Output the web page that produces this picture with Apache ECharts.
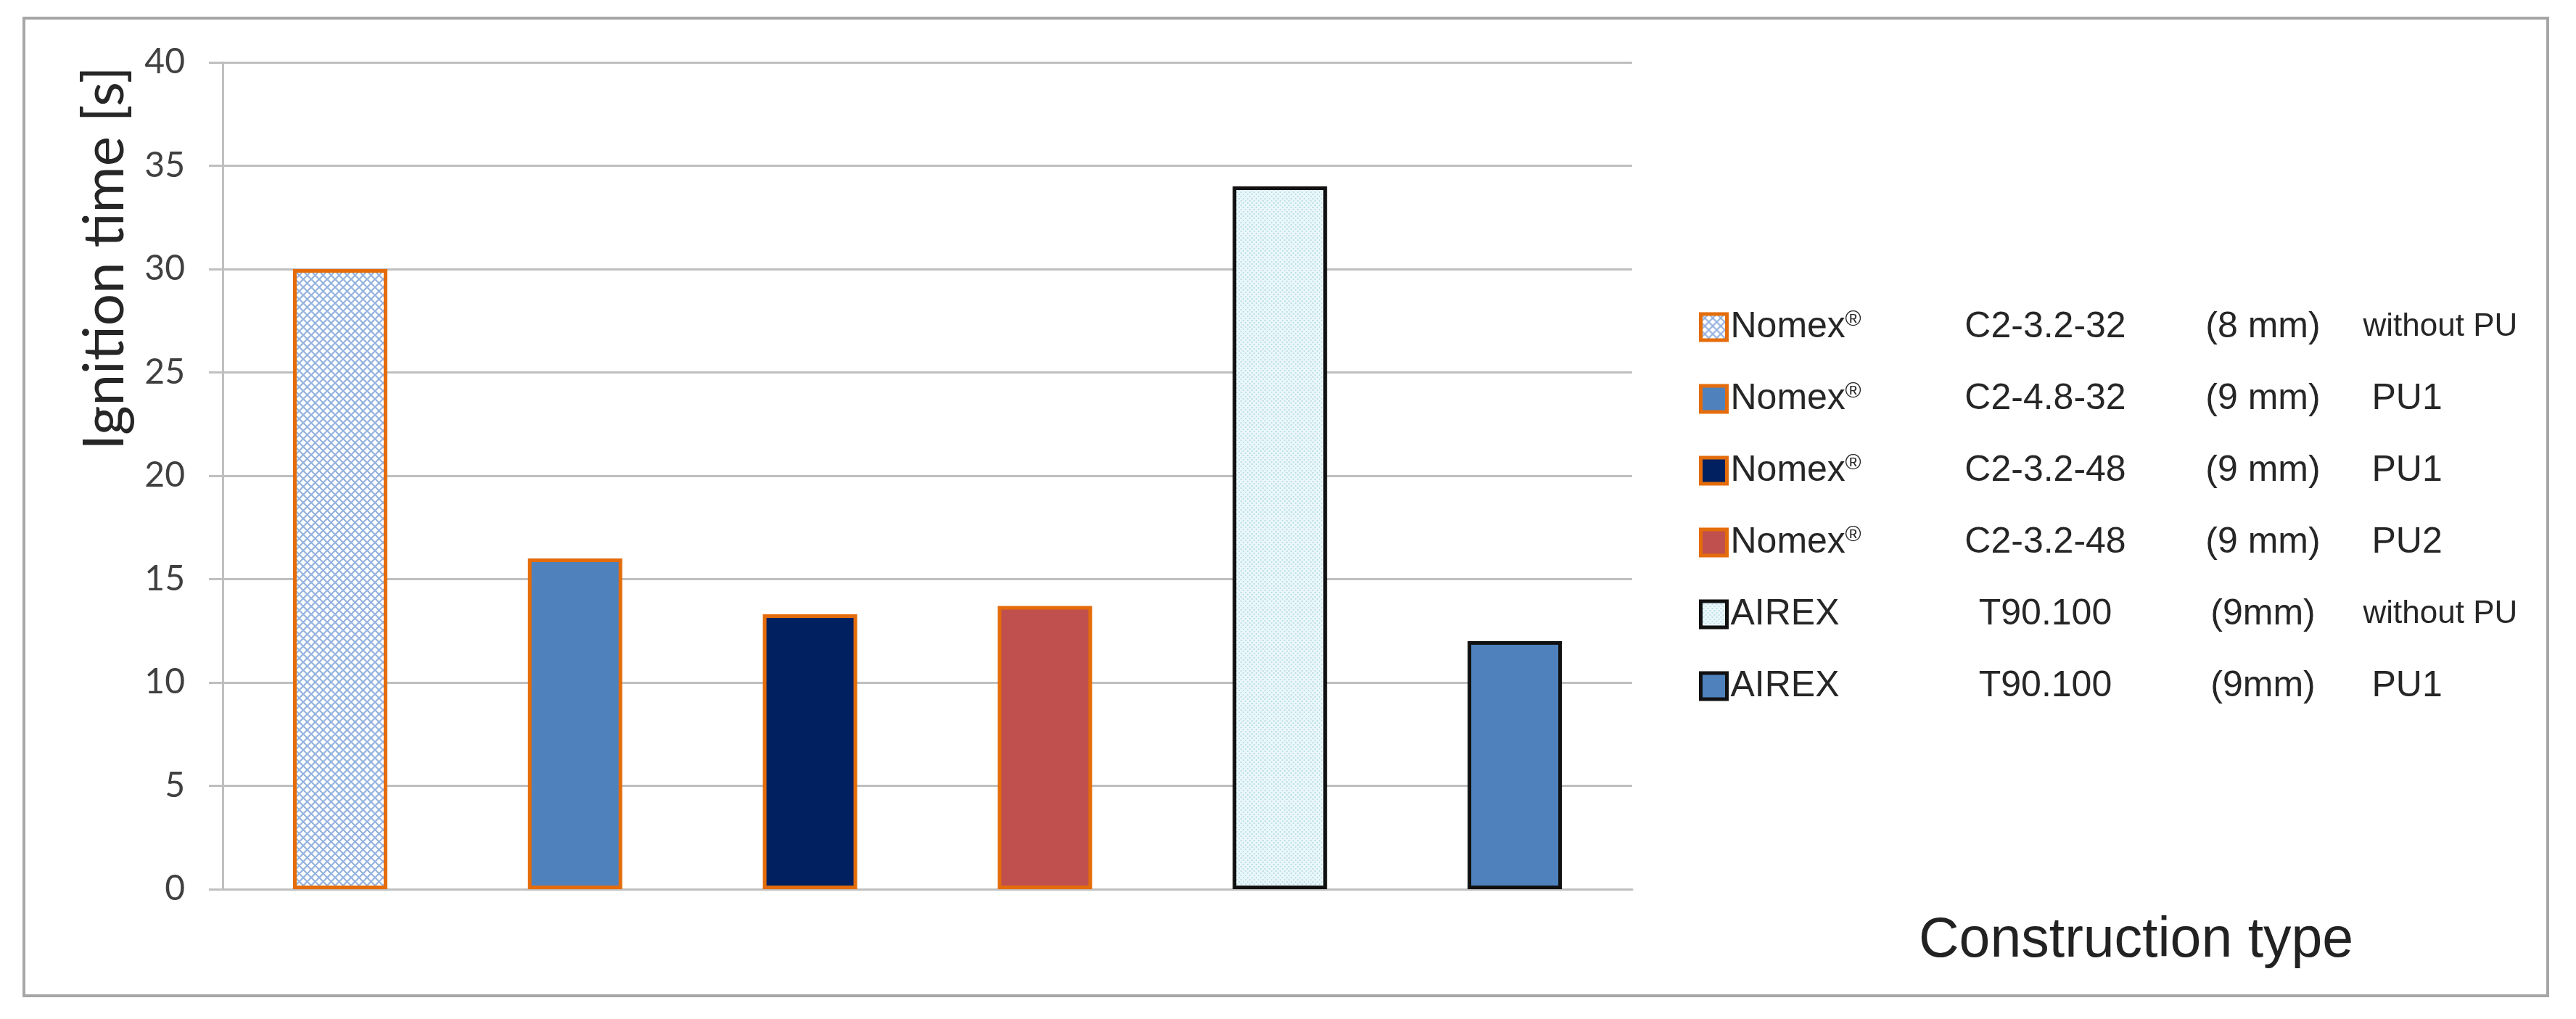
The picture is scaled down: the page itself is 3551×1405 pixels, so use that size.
<!DOCTYPE html>
<html>
<head>
<meta charset="utf-8">
<script src="https://cdn.jsdelivr.net/npm/echarts@6/dist/echarts.min.js"></script>
<style>
html,body{margin:0;padding:0;background:#fff;}
#chart{width:3551px;height:1405px;}
</style>
</head>
<body>
<div id="chart"></div>
<script>
// ---- data ----
const materials = ['Nomex®', 'Nomex®', 'Nomex®', 'Nomex®', 'AIREX', 'AIREX'];
const cores = ['C2-3.2-32', 'C2-4.8-32', 'C2-3.2-48', 'C2-3.2-48', 'T90.100', 'T90.100'];
const thicknesses = ['(8 mm)', '(9 mm)', '(9 mm)', '(9 mm)', '(9mm)', '(9mm)'];
const coatings = ['without PU', 'PU1', 'PU1', 'PU2', 'without PU', 'PU1'];
const ignitionTime = [30, 16, 13.3, 13.7, 34, 12];
const yMin = 0, yMax = 40, yInterval = 5;
const yTitle = 'Ignition time [s]';
const xTitle = 'Construction type';

// ---- patterns ----
function crossHatch() {
  const c = document.createElement('canvas');
  c.width = 11; c.height = 11;
  const g = c.getContext('2d');
  g.fillStyle = '#ffffff'; g.fillRect(0, 0, 11, 11);
  g.strokeStyle = '#94b3de'; g.lineWidth = 2.2;
  g.beginPath(); g.moveTo(0, 0); g.lineTo(11, 11); g.moveTo(11, 0); g.lineTo(0, 11); g.stroke();
  return c;
}
function dotted() {
  const c = document.createElement('canvas');
  c.width = 6; c.height = 6;
  const g = c.getContext('2d');
  g.fillStyle = '#eaf6f9'; g.fillRect(0, 0, 6, 6);
  g.fillStyle = '#bde1eb';
  g.fillRect(0, 0, 2, 2); g.fillRect(3, 3, 2, 2);
  return c;
}
const ORANGE = '#E46C0A', BLACK = '#111111';
const fills = [
  { image: crossHatch(), repeat: 'repeat' },
  '#4F81BD',
  '#002060',
  '#C0504D',
  { image: dotted(), repeat: 'repeat' },
  '#4F81BD'
];
const borders = [ORANGE, ORANGE, ORANGE, ORANGE, BLACK, BLACK];

const names = materials.map((m, i) => m + ' ' + cores[i] + ' ' + thicknesses[i] + ' ' + coatings[i]);
const categories = names;

const series = names.map((n, i) => ({
  name: n,
  type: 'bar',
  stack: 'all',
  barWidth: 130,
  data: ignitionTime.map((v, j) => (j === i ? v : '-')),
  itemStyle: { color: fills[i], borderColor: borders[i], borderWidth: 5 },
  emphasis: { disabled: true }
}));

const chart = echarts.init(document.getElementById('chart'), null, { renderer: 'canvas' });
chart.setOption({
  animation: false,
  backgroundColor: '#ffffff',
  grid: { left: 307, top: 86, right: 1301, bottom: 179, containLabel: false },
  xAxis: {
    type: 'category',
    data: categories,
    axisLine: { show: true, lineStyle: { color: '#BFBFBF', width: 3 } },
    axisTick: { show: false },
    axisLabel: { show: false },
    splitLine: { show: false }
  },
  yAxis: {
    type: 'value',
    min: yMin, max: yMax, interval: yInterval,
    axisLine: { show: true, lineStyle: { color: '#BFBFBF', width: 3 } },
    axisTick: { show: true, length: 19, lineStyle: { color: '#BFBFBF', width: 3 } },
    splitLine: { show: true, lineStyle: { color: '#BFBFBF', width: 3 } },
    axisLabel: { fontFamily: 'Lato', fontSize: 48, color: '#404040', margin: 52 }
  },
  legend: {
    orient: 'vertical',
    left: 2337, top: 416,
    itemWidth: 36, itemHeight: 36, itemGap: 39,
    icon: 'rect',
    selectedMode: false,
    data: names.map((n, i) => ({ name: n, itemStyle: { color: fills[i], borderColor: borders[i], borderWidth: 5 } })),
    formatter: function (name) {
      const i = names.indexOf(name);
      const m = materials[i];
      const base = m.replace('®', '');
      const reg = m.indexOf('®') >= 0 ? '®' : ' ';
      const dStyle = coatings[i].indexOf('without') === 0 ? 'd' : 'e';
      return '{a|' + base + '}{r|' + reg + '}{b|' + cores[i] + '}{c|' + thicknesses[i] + '}{' + dStyle + '|' + coatings[i] + '}';
    },
    textStyle: {
      fontFamily: 'Liberation Sans', fontSize: 50, color: '#262626', lineHeight: 60,
      rich: {
        a: { fontFamily: 'Liberation Sans', fontSize: 50, color: '#262626', width: 158, lineHeight: 60 },
        r: { fontFamily: 'Liberation Sans', fontSize: 30, color: '#262626', width: 40, lineHeight: 30, verticalAlign: 'top', padding: [5, 0, 0, 0] },
        b: { fontFamily: 'Liberation Sans', fontSize: 50, color: '#262626', width: 472, align: 'center', lineHeight: 60 },
        c: { fontFamily: 'Liberation Sans', fontSize: 50, color: '#262626', width: 128, align: 'center', lineHeight: 60 },
        d: { fontFamily: 'Liberation Sans', fontSize: 44, color: '#262626', align: 'left', lineHeight: 60, padding: [0, 0, 0, 74] },
        e: { fontFamily: 'Liberation Sans', fontSize: 50, color: '#262626', align: 'left', lineHeight: 60, padding: [0, 0, 0, 86] }
      }
    }
  },
  graphic: [
    { type: 'rect', shape: { x: 33, y: 25, width: 3479, height: 1348 }, style: { fill: 'none', stroke: '#A6A6A6', lineWidth: 4 }, silent: true, z: -1 },
    { type: 'text', x: 145, y: 356, rotation: Math.PI / 2, style: { text: yTitle, fontFamily: 'Lato', fontSize: 78, fill: '#262626', align: 'center', verticalAlign: 'middle' } },
    { type: 'text', x: 2645, y: 1298, style: { text: xTitle, fontFamily: 'Liberation Sans', fontSize: 77, fill: '#222222', align: 'left', verticalAlign: 'middle' } }
  ],
  series: series
});
</script>
</body>
</html>
